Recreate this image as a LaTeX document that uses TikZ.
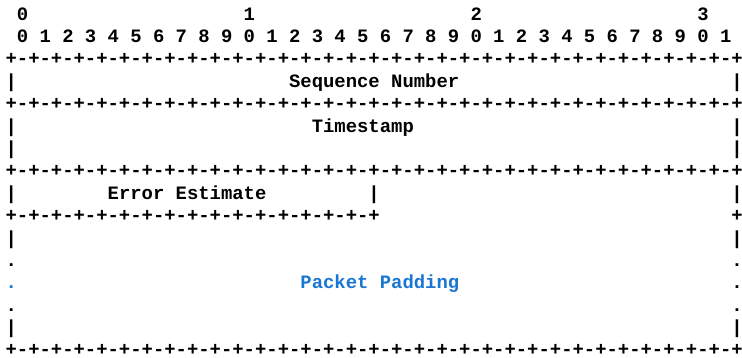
\documentclass[tikz,border=0pt]{standalone}
\usepackage{fontspec}
\setmonofont{Liberation Mono}
\definecolor{padblue}{RGB}{25,118,210}
% one column of the bit ruler is one character cell, one row is one text line
\newcommand\bitpairs{-+-+-+-+}
\newcommand\bitrulefull{+\bitpairs\bitpairs\bitpairs\bitpairs\bitpairs\bitpairs\bitpairs\bitpairs}
\newcommand\bitrulehalf{+\bitpairs\bitpairs\bitpairs\bitpairs}
\begin{document}
\begin{tikzpicture}[
  x=11.34pt, y=-22.38pt,
  glyph/.style={inner sep=0pt, outer sep=0pt, anchor=base west,
    font=\fontsize{18.9pt}{22pt}\selectfont\ttfamily\bfseries},
  padding/.style={glyph, text=padblue}]
\useasboundingbox (0pt,0pt) rectangle (742pt,-358pt);
\begin{scope}[shift={(5.6pt,-20.24pt)}]
  % bit numbering
  \foreach \c/\t in {1/0,21/1,41/2,61/3}
    \node[glyph] (tens\t) at (\c,0) {\t};
  \foreach \k in {0,...,31} {
    \pgfmathtruncatemacro\d{mod(\k,10)}
    \node[glyph] (bit\k) at ({1+2*\k},1) {\d};
  }
  % sequence number
  \node[glyph] (ruleA) at (0,2) {\bitrulefull};
  \node[glyph] (seqL) at (0,3) {|};
  \node[glyph] (seq) at (25,3) {Sequence Number};
  \node[glyph] (seqR) at (64,3) {|};
  % timestamp
  \node[glyph] (ruleB) at (0,4) {\bitrulefull};
  \node[glyph] (tsL) at (0,5) {|};
  \node[glyph] (ts) at (27,5) {Timestamp};
  \node[glyph] (tsR) at (64,5) {|};
  \node[glyph] (tsL2) at (0,6) {|};
  \node[glyph] (tsR2) at (64,6) {|};
  % error estimate
  \node[glyph] (ruleC) at (0,7) {\bitrulefull};
  \node[glyph] (errL) at (0,8) {|};
  \node[glyph] (err) at (9,8) {Error Estimate};
  \node[glyph] (errM) at (32,8) {|};
  \node[glyph] (errR) at (64,8) {|};
  \node[glyph] (ruleD) at (0,9) {\bitrulehalf};
  \node[glyph] (ruleDR) at (64,9) {+};
  % packet padding
  \node[glyph] (padL1) at (0,10) {|};
  \node[glyph] (padR1) at (64,10) {|};
  \node[glyph] (padL2) at (0,11) {.};
  \node[glyph] (padR2) at (64,11) {.};
  \node[padding] (padL3) at (0,12) {.};
  \node[padding] (pad) at (26,12) {Packet Padding};
  \node[glyph] (padR3) at (64,12) {.};
  \node[glyph] (padL4) at (0,13) {.};
  \node[glyph] (padR4) at (64,13) {.};
  \node[glyph] (padL5) at (0,14) {|};
  \node[glyph] (padR5) at (64,14) {|};
  \node[glyph] (ruleE) at (0,15) {\bitrulefull};
\end{scope}
\end{tikzpicture}
\end{document}
